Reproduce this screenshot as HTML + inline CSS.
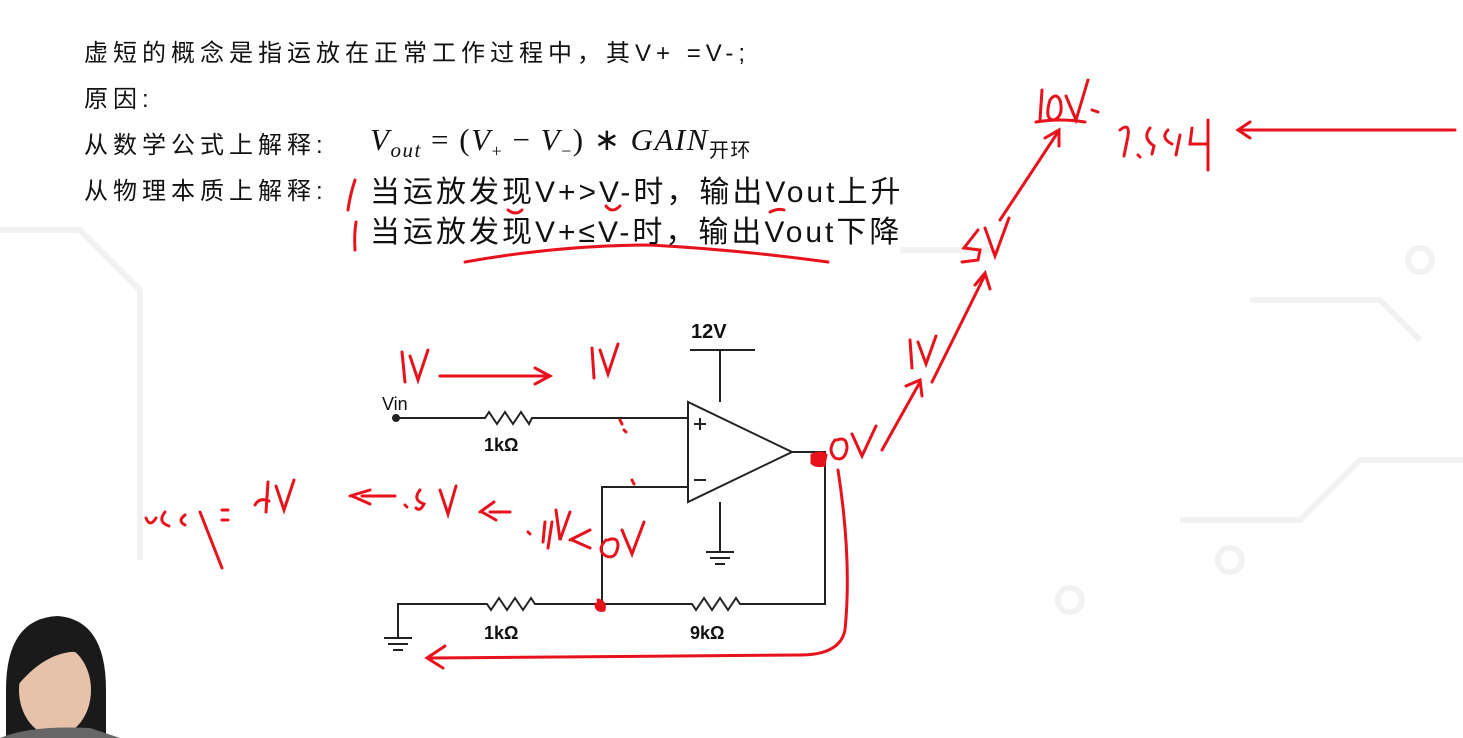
<!DOCTYPE html>
<html><head><meta charset="utf-8"><style>
body{margin:0;width:1463px;height:738px;background:#fff;overflow:hidden;position:relative;font-family:"Liberation Sans","Noto Sans CJK SC",sans-serif}
.t{position:absolute;color:#111;font-size:24px;letter-spacing:5px;white-space:nowrap;line-height:1}
.b{font-size:30px;letter-spacing:3px}
.c{letter-spacing:0}
</style></head><body>
<svg width="1463" height="738" style="position:absolute;left:0;top:0">
<g stroke="#f2f2f2" stroke-width="6" fill="none">
<path d="M0 230 L80 230 L140 290 L140 560"/><path d="M1180 520 L1300 520 L1360 460 L1463 460"/>
<circle cx="1420" cy="260" r="12"/><circle cx="1230" cy="560" r="12"/><path d="M1250 300 L1380 300 L1420 340"/>
<circle cx="1070" cy="600" r="12"/><path d="M900 250 L1000 250"/>
</g>
<g stroke="#222" stroke-width="2" fill="none">
<circle cx="396" cy="418" r="3" fill="#222"/>
<path d="M396 418 H485 l4 -6 l8 12 l8 -12 l8 12 l8 -12 l8 12 l3 -6 H688"/>
<path d="M688 402 V502 L792 452 Z"/>
<path d="M792 452 H825 V604 H740 l-4 -6 l-8 12 l-8 -12 l-8 12 l-8 -12 l-8 12 l-4 -6 H535 l-4 -6 l-8 12 l-8 -12 l-8 12 l-8 -12 l-8 12 l-4 -6 H398 V638"/>
<path d="M688 487 H602 V604"/>
<path d="M690 350 H755 M720 350 V402 M720 502 V552"/>
<path d="M706 552 H734 M710 558 H730 M715 564 H725"/>
<path d="M384 638 H412 M388 644 H408 M393 650 H403"/>
<path d="M694 424 H706 M700 418 V430 M694 480 H706"/>
</g>
<g stroke="#e8121c" stroke-width="3" fill="none" stroke-linecap="round">
<path d="M355 180 Q350 195 348 210 M356 222 Q354 235 355 250"/>
<path d="M465 262 Q560 245 650 245 Q740 250 828 262"/>
<path d="M508 210 q8 6 14 0 M606 206 q6 8 14 0 M770 212 q8 -4 14 -2"/>
<path d="M402 352 l3 30 M410 356 l8 24 l10 -30"/>
<path d="M440 376 H550 M535 368 l15 8 l-15 8"/>
<path d="M592 348 l2 30 M600 350 l8 24 l10 -30"/>
<path d="M812 455 q10 -4 14 0 l-2 10 q-8 2 -12 -2 z" fill="#e8121c"/>
<path d="M835 440 q-8 10 0 18 q10 4 12 -10 q0 -12 -10 -8 M852 434 l10 22 l14 -30"/>
<path d="M882 450 L920 382 M906 386 l14 -6 l2 16"/>
<path d="M910 340 l2 28 M918 342 l8 22 l10 -28"/>
<path d="M932 382 L985 275 M975 285 l10 -12 l5 16"/>
<path d="M978 230 l-14 18 l16 2 l-2 10 l-16 2 M985 228 l10 28 l14 -38"/>
<path d="M1000 220 L1058 132 M1045 138 l14 -8 l0 16"/>
<path d="M1042 90 l-2 30 M1050 100 q-6 20 4 20 q10 -4 6 -20 q-4 -8 -10 0 M1066 96 l10 24 l12 -40 M1092 110 l6 2"/>
<path d="M1036 122 Q1060 118 1085 122"/>
<path d="M1120 130 q10 -8 8 6 l-4 20 M1138 155 l2 2 M1150 128 q-8 10 4 18 l-2 8 M1168 130 q-8 8 4 14 M1180 135 l-4 20 M1192 128 l-2 16 h16 M1208 120 l0 50"/>
<path d="M1240 130 H1455 M1250 122 l-12 8 l12 8"/>
<path d="M146 518 q4 10 10 0 M165 512 q-8 10 4 14 M185 515 q-8 6 0 10 M200 512 l22 56 M228 510 l-6 0 M228 520 h-6"/>
<path d="M268 482 l-2 30 M276 486 l8 24 l10 -30 M255 505 q4 -8 14 -4"/>
<path d="M350 496 l20 -6 M352 496 l18 8 M362 496 H395 M405 505 l2 2 M420 490 q-8 10 4 14 q-4 8 -8 4 M440 490 l8 24 l8 -28"/>
<path d="M480 512 l14 -10 M482 512 l14 8 M490 512 H510 M528 532 l2 2 M545 522 l-2 20 M552 522 l-4 26 M556 510 l4 30 l10 -28"/>
<path d="M570 540 l20 -10 M572 540 l18 8 M606 540 q-10 10 0 16 q10 4 12 -10 q0 -10 -10 -6 M622 530 l10 24 l12 -32"/>
<path d="M598 600 q8 2 6 10 q-8 2 -8 -6" fill="#e8121c"/>
<path d="M838 470 Q852 560 845 630 Q840 655 800 655 L430 658 M445 646 l-18 12 l16 10"/>
<path d="M620 420 l2 4 M632 480 l2 4 M624 430 l2 2"/>
</g>
<path d="M6 738 V690 Q6 618 58 616 Q106 620 106 690 V738 Z" fill="#1a1a1a"/>
<ellipse cx="55" cy="690" rx="36" ry="46" fill="#e6c2aa"/>
<path d="M14 690 Q16 625 58 620 Q100 624 100 690 Q92 650 70 652 Q40 656 14 690Z" fill="#1a1a1a"/>
<path d="M0 738 Q30 725 90 728 L120 738Z" fill="#666"/>
</svg>
<div class="t" style="left:84px;top:42px">虚短的概念是指运放在正常工作过程中，其V+ =V-;</div>
<div class="t" style="left:84px;top:88px">原因:</div>
<div class="t" style="left:84px;top:134px">从数学公式上解释:</div>
<div class="t c" style="left:370px;top:124px;font-family:'Liberation Serif',serif;font-style:italic;font-size:31px;letter-spacing:1.5px">V<sub style="font-size:21px">out</sub> <span style="font-style:normal">= (</span>V<sub style="font-size:18px;font-style:normal">+</sub> <span style="font-style:normal">−</span> V<sub style="font-size:18px;font-style:normal">−</sub><span style="font-style:normal">) ∗</span> GAIN<sub style="font-size:20px;font-style:normal;font-family:'Noto Sans CJK SC',sans-serif">开环</sub></div>
<div class="t" style="left:84px;top:180px">从物理本质上解释:</div>
<div class="t b" style="left:370px;top:178px">当运放发现V+&gt;V-时，输出Vout上升</div>
<div class="t b" style="left:370px;top:218px">当运放发现V+≤V-时，输出Vout下降</div>
<div class="t c" style="left:691px;top:322px;font-weight:bold;font-size:20px">12V</div>
<div class="t c" style="left:382px;top:395px;font-size:18px">Vin</div>
<div class="t c" style="left:484px;top:436px;font-weight:bold;font-size:18px">1kΩ</div>
<div class="t c" style="left:484px;top:624px;font-weight:bold;font-size:18px">1kΩ</div>
<div class="t c" style="left:690px;top:624px;font-weight:bold;font-size:18px">9kΩ</div>
</body></html>
